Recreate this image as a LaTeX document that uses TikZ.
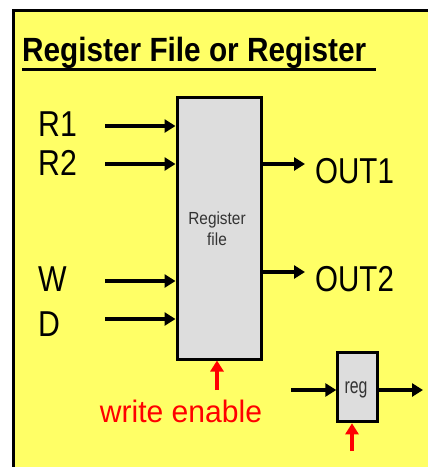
\documentclass[tikz,border=0pt]{standalone}
\usepackage{fontspec}
\setmainfont{Liberation Sans}
\usetikzlibrary{arrows.meta}
\definecolor{panelyellow}{RGB}{255,255,102}
\definecolor{boxgray}{RGB}{221,221,221}
\definecolor{boxtext}{RGB}{51,51,51}

\tikzset{
  sig/.style={anchor=base west, inner sep=0pt, font=\fontsize{36}{36}\selectfont},
  wire/.style={line width=3.2pt, -{Triangle[length=11pt,width=13pt]}},
  enwire/.style={wire, draw=red},
  regbox/.style={draw, line width=3pt, fill=boxgray, inner sep=0pt}
}

\begin{document}
\begin{tikzpicture}[x=1pt,y=-1pt]
\useasboundingbox (0,0) rectangle (428,467);
\clip (0,0) rectangle (428,467);

% panel
\fill[white] (0,0) rectangle (428,467);
\draw[line width=3pt, fill=panelyellow] (13.5,10.5) rectangle (440,480);

% title
\node[anchor=base west, inner sep=0pt, font=\fontsize{32}{32}\selectfont\bfseries]
  (title) at (22,61) {\scalebox{0.93}[1.05]{Register File or Register}};
\draw[line width=3pt] (22,69.5) -- (376,69.5);

% register file
\node[regbox, minimum width=84pt, minimum height=262pt, anchor=north west]
  (rf) at (175.5,95.5) {};
\node[align=center, text=boxtext, font=\fontsize{17.5}{21}\selectfont, inner sep=0pt]
  (rflabel) at (217,229) {\scalebox{0.88}[1]{Register}\\\scalebox{0.88}[1]{file}};

% input labels
\node[sig] (r1) at (38,136) {\scalebox{0.84}[1]{R1}};
\node[sig] (r2) at (38,175) {\scalebox{0.84}[1]{R2}};
\node[sig] (w) at (38,291) {\scalebox{0.84}[1]{W}};
\node[sig] (d) at (38,336) {\scalebox{0.84}[1]{D}};

% input wires
\coordinate (r1in) at (105,126);
\coordinate (r2in) at (105,164);
\coordinate (win) at (105,281);
\coordinate (din) at (105,319);
\draw[wire] (r1in) -- (r1in -| rf.west);
\draw[wire] (r2in) -- (r2in -| rf.west);
\draw[wire] (win) -- (win -| rf.west);
\draw[wire] (din) -- (din -| rf.west);

% outputs
\coordinate (o1) at (305,164);
\coordinate (o2) at (305,272);
\draw[wire] (o1 -| rf.east) -- (o1);
\draw[wire] (o2 -| rf.east) -- (o2);
\node[sig] (out1) at (315,183) {\scalebox{0.82}[1]{OUT1}};
\node[sig] (out2) at (315,291) {\scalebox{0.82}[1]{OUT2}};

% write enable
\coordinate (wen) at (217,390);
\draw[enwire] (wen) -- (rf.south -| wen);
\node[anchor=base, inner sep=0pt, text=red, font=\fontsize{31}{31}\selectfont]
  (wenlabel) at (181,422) {\scalebox{0.97}[1]{write enable}};

% single register
\node[regbox, minimum width=39.4pt, minimum height=69.6pt, anchor=north west]
  (reg) at (336.3,350.7) {};
\node[anchor=base, text=boxtext, inner sep=0pt, font=\fontsize{22}{22}\selectfont]
  (reglabel) at (356,393) {\scalebox{0.72}[1]{reg}};
\coordinate (regin) at (291,390);
\coordinate (regout) at (423,390);
\coordinate (regen) at (352,451);
\draw[wire] (regin) -- (regin -| reg.west);
\draw[wire] (regin -| reg.east) -- (regout);
\draw[enwire] (regen) -- (reg.south -| regen);
\end{tikzpicture}
\end{document}
